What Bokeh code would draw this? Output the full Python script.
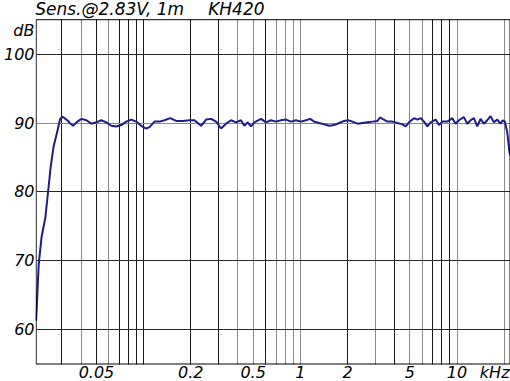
from bokeh.plotting import figure
from bokeh.models import FixedTicker, Label, BoxAnnotation, Grid
from bokeh.embed import file_html
from bokeh.resources import INLINE

# ---- data ----
freq_khz = [0.0206, 0.0214, 0.0223, 0.0236, 0.0246, 0.0255, 0.0266, 0.0282, 0.0293, 0.0303,
            0.0313, 0.0330, 0.0337, 0.0355, 0.0372, 0.0401, 0.0431, 0.0464, 0.0499, 0.0537,
            0.0578, 0.0622, 0.0669, 0.0720, 0.0775, 0.0834, 0.0897, 0.0965, 0.1039, 0.1090,
            0.1174, 0.1263, 0.1358, 0.1477, 0.1613, 0.1780, 0.1961, 0.2110, 0.2327, 0.2505,
            0.2695, 0.2901, 0.3120, 0.3358, 0.3614, 0.3889, 0.4183, 0.4391, 0.4617, 0.4845,
            0.5085, 0.5612, 0.6039, 0.6499, 0.6992, 0.7524, 0.8097, 0.8713, 0.9376, 1.009,
            1.086, 1.156, 1.226, 1.320, 1.420, 1.528, 1.644, 1.769, 1.904, 2.019,
            2.154, 2.317, 2.494, 2.684, 2.888, 3.108, 3.228, 3.344, 3.599, 3.872,
            4.168, 4.483, 4.706, 4.940, 5.315, 5.588, 5.865, 6.156, 6.471, 6.792,
            7.308, 7.669, 8.061, 8.676, 9.335, 9.797, 10.28, 11.07, 11.63, 12.21,
            12.82, 13.47, 14.14, 14.84, 15.60, 16.37, 17.19, 18.06, 18.96, 19.61,
            20.19, 20.91, 21.63, 21.9]
level_db = [61.3, 69.5, 73.4, 76.3, 80.2, 83.6, 86.5, 88.9, 90.6, 90.9,
            90.7, 90.3, 90.0, 89.6, 90.1, 90.6, 90.4, 89.9, 90.1, 90.4,
            90.1, 89.6, 89.5, 89.7, 90.2, 90.5, 90.2, 89.6, 89.2, 89.4,
            90.2, 90.2, 90.4, 90.7, 90.3, 90.3, 90.4, 90.4, 89.6, 90.5,
            90.6, 90.2, 89.2, 89.9, 90.4, 90.1, 90.4, 89.6, 90.1, 89.5,
            90.1, 90.6, 90.1, 90.4, 90.2, 90.4, 90.5, 90.2, 90.4, 90.2,
            90.4, 90.6, 90.2, 90.0, 89.8, 89.6, 89.7, 90.0, 90.3, 90.4,
            90.2, 89.9, 90.0, 90.1, 90.2, 90.3, 90.8, 90.6, 90.2, 90.2,
            90.0, 89.8, 89.5, 90.1, 90.7, 90.5, 90.7, 90.2, 89.5, 90.1,
            90.5, 89.7, 90.2, 90.2, 90.7, 89.9, 90.4, 90.85, 89.9, 90.4,
            90.7, 89.5, 90.6, 89.9, 90.4, 91.0, 90.1, 90.5, 89.9, 90.4,
            90.2, 88.7, 85.75, 85.3]

# tick labels; the unit names sit in the tick rows like in the reference
x_tick_values = [0.05, 0.2, 0.5, 1, 2, 5, 10, 17.4]
x_tick_labels = ["0.05", "0.2", "0.5", "1", "2", "5", "10", "kHz"]
y_tick_values = [60, 70, 80, 90, 100, 103.5]
y_tick_labels = ["60", "70", "80", "90", "100", "dB"]
dark_grid_freqs = [0.03, 0.05, 0.07, 0.08, 0.09, 0.1, 0.2, 0.3, 0.6, 2, 4, 7, 8, 9]
light_grid_freqs = [0.04, 0.06, 0.4, 0.5, 0.7, 0.8, 0.9, 1, 3, 5, 6, 10, 20]
dark_grid_db = [60, 70, 80, 100]
light_grid_db = [90]

title_left = "Sens.@2.83V, 1m"
title_right = "KH420"

FONT = "DejaVu Sans"
# plotted box (frequency in kHz, level in dB)
BOX_F0, BOX_F1 = 0.02061, 21.79
BOX_DB0, BOX_DB1 = 55, 105
DARK, LIGHT = "#1a1a1a", "#8a8a8a"

p = figure(width=510, height=381, x_axis_type="log",
           x_range=(0.02041, 21.95), y_range=(52.46, 107.79),
           min_border_left=34, min_border_right=0, min_border_top=0, min_border_bottom=0,
           toolbar_location=None, output_backend="svg")
p.background_fill_color = "white"
p.border_fill_color = "white"
p.outline_line_color = None

# grids, limited to the plotted box
has_cross = "cross_bounds" in Grid.properties()
if has_cross:
    p.xgrid.ticker = FixedTicker(ticks=dark_grid_freqs, minor_ticks=light_grid_freqs)
    p.xgrid.grid_line_color = DARK
    p.xgrid.minor_grid_line_color = LIGHT
    p.xgrid.cross_bounds = (BOX_DB0, BOX_DB1)
    p.ygrid.ticker = FixedTicker(ticks=dark_grid_db, minor_ticks=light_grid_db)
    p.ygrid.grid_line_color = "#2a2a2a"
    p.ygrid.minor_grid_line_color = LIGHT
    p.ygrid.cross_bounds = (BOX_F0, BOX_F1)
else:
    p.xgrid.visible = False
    p.ygrid.visible = False
    for freqs, col in ((light_grid_freqs, LIGHT), (dark_grid_freqs, DARK)):
        p.segment(x0=freqs, x1=freqs, y0=[BOX_DB0] * len(freqs), y1=[BOX_DB1] * len(freqs),
                  line_color=col, line_width=1)
    for dbs, col in ((light_grid_db, LIGHT), (dark_grid_db, "#2a2a2a")):
        p.segment(x0=[BOX_F0] * len(dbs), x1=[BOX_F1] * len(dbs), y0=dbs, y1=dbs,
                  line_color=col, line_width=1)

# frame box of the chart
p.add_layout(BoxAnnotation(left=BOX_F0, right=BOX_F1, bottom=BOX_DB0, top=BOX_DB1,
                           fill_color=None, fill_alpha=0, line_color="black",
                           line_alpha=1, line_width=1))

# axes
p.xaxis.ticker = FixedTicker(ticks=x_tick_values)
p.xaxis.major_label_overrides = dict(zip(x_tick_values, x_tick_labels))
p.xaxis.fixed_location = BOX_DB0
p.yaxis.ticker = FixedTicker(ticks=y_tick_values)
p.yaxis.major_label_overrides = dict(zip(y_tick_values, y_tick_labels))
for ax in (p.xaxis[0], p.yaxis[0]):
    ax.axis_line_color = None
    ax.major_tick_line_color = None
    ax.minor_tick_line_color = None
    ax.major_tick_out = 0
    ax.major_tick_in = 0
    ax.major_label_text_font = FONT
    ax.major_label_text_font_style = "italic"
    ax.major_label_text_font_size = "16px"
    ax.major_label_text_color = "black"
p.xaxis.major_label_standoff = -1
p.yaxis.major_label_standoff = 1

p.line(freq_khz, level_db, line_color="#1c1c8c", line_width=2)

# chart title (two parts, as spaced in the reference)
title_kw = dict(x=BOX_F0, y=106.55, text_font=FONT, text_font_style="italic",
                text_font_size="17px", text_color="black",
                text_align="left", text_baseline="alphabetic")
p.add_layout(Label(text=title_left, x_offset=-1, **title_kw))
p.add_layout(Label(text=title_right, x_offset=172, **title_kw))

open("out.html", "w").write(file_html(p, INLINE))
